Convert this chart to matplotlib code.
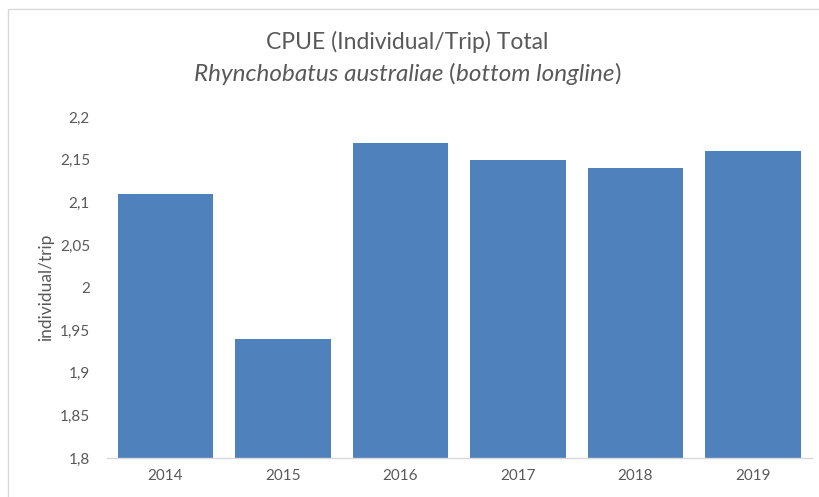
import numpy as np
import matplotlib
matplotlib.use("Agg")
import matplotlib.pyplot as plt
from matplotlib.ticker import FuncFormatter, MultipleLocator
from matplotlib.patches import Rectangle

# CPUE per year, bottom longline
years = ["2014", "2015", "2016", "2017", "2018", "2019"]
cpue = [2.11, 1.94, 2.17, 2.15, 2.14, 2.16]

plt.rcParams["font.family"] = ["Lato", "DejaVu Sans"]
text_grey = "#595959"

fig = plt.figure(figsize=(8.2, 4.97), dpi=100)
ax = fig.add_axes([0.130, 0.0785, 0.860, 0.686])

x = np.arange(len(years))
ax.bar(x, cpue, width=0.81, color="#4F81BD", zorder=2)

ax.set_xlim(-0.5, len(years) - 0.5)
ax.set_ylim(1.8, 2.2)
ax.yaxis.set_major_locator(MultipleLocator(0.05))
ax.yaxis.set_major_formatter(FuncFormatter(lambda v, p: f"{v:g}".replace(".", ",")))
ax.set_xticks(x)
ax.set_xticklabels(years)

for side in ["top", "right", "left"]:
    ax.spines[side].set_visible(False)
ax.spines["bottom"].set_color("#d9d9d9")
ax.spines["bottom"].set_linewidth(1.0)
ax.tick_params(length=0, colors=text_grey, labelsize=11)
ax.tick_params(axis="x", pad=8)
ax.tick_params(axis="y", pad=12)

ax.set_ylabel("individual/trip", color=text_grey, fontsize=12.5, labelpad=4)

# title, first line
fig.text(0.497, 0.915, "CPUE (Individual/Trip) Total", ha="center", va="center",
         fontsize=16.5, color=text_grey)

# second line: species name and gear in italics, brackets upright
pieces = [("Rhynchobatus australiae ", "italic"), ("(", "normal"),
          ("bottom longline", "italic"), (")", "normal")]
renderer = fig.canvas.get_renderer()
items = []
for s, st in pieces:
    t = fig.text(0, 0.851, s, ha="left", va="center", fontsize=17.5,
                 color=text_grey, style=st)
    items.append(t)
widths = [t.get_window_extent(renderer).width for t in items]
total = sum(widths)
x0 = 0.497 * fig.bbox.width - total / 2
for t, w in zip(items, widths):
    t.set_x(x0 / fig.bbox.width)
    x0 += w

# chart frame
fig.patches.append(Rectangle((0.0098, -0.1), 1.5, 1.082, transform=fig.transFigure,
                             fill=False, edgecolor="#d9d9d9", linewidth=1.0))

fig.savefig("out.png", dpi=100)
